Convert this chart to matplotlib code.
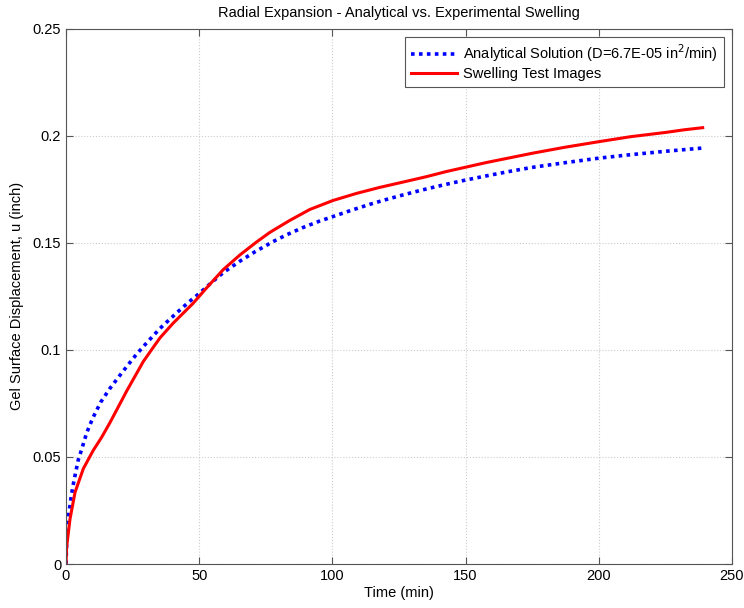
import matplotlib
matplotlib.use("Agg")
import matplotlib.pyplot as plt

# Analytical solution
t_analytical = [0, 0.3, 1, 2, 3, 4.6, 6, 7.75, 10, 13, 16.5, 20, 22.8, 26, 29, 35.3, 41.5,
                46, 50.2, 55, 59, 65.3, 71, 77.7, 83, 89, 95, 100.2, 107, 114, 120, 126.5,
                133, 139, 145, 150.2, 159, 167, 175.2, 187, 200.2, 212, 225.2, 239]
u_analytical = [0, 0.012, 0.023, 0.032, 0.039, 0.0486, 0.054, 0.0612, 0.0680, 0.0755,
                0.0820, 0.0877, 0.0922, 0.0972, 0.1015, 0.1100, 0.1172, 0.1222, 0.1265,
                0.1318, 0.1360, 0.1414, 0.1458, 0.1505, 0.1538, 0.1571, 0.1600, 0.1622,
                0.1651, 0.1679, 0.1701, 0.1723, 0.1744, 0.1762, 0.1779, 0.1793, 0.1815,
                0.1834, 0.1852, 0.1873, 0.1895, 0.1911, 0.1927, 0.1942]

# Swelling test images
t_test = [0, 0.25, 1.5, 3.4, 6.5, 10.2, 13.4, 16.5, 22.8, 29, 32.1, 35.3, 40.2, 47.7, 52.7,
          59, 65.3, 71.5, 76.5, 84, 91.5, 100.2, 109, 117.7, 126.5, 135.2, 142.7, 150.2,
          157.7, 175.2, 187, 200.2, 212, 225.2, 232, 239]
u_test = [0, 0.008, 0.021, 0.0335, 0.0445, 0.0530, 0.0592, 0.0660, 0.0808, 0.0945, 0.1000,
          0.1056, 0.1124, 0.1217, 0.1288, 0.1374, 0.1443, 0.1503, 0.1548, 0.1604, 0.1655,
          0.1697, 0.1730, 0.1758, 0.1783, 0.1808, 0.1832, 0.1853, 0.1874, 0.1918, 0.1945,
          0.1972, 0.1995, 0.2015, 0.2027, 0.2037]

x_ticks = [0, 50, 100, 150, 200, 250]
y_ticks = [0, 0.05, 0.1, 0.15, 0.2, 0.25]
y_tick_labels = ["0", "0.05", "0.1", "0.15", "0.2", "0.25"]

plt.rcParams['font.family'] = ['Liberation Sans', 'DejaVu Sans']
fs = 10.5

fig = plt.figure(figsize=(7.44, 6.08), dpi=100)
ax = fig.add_axes([66/744, 44/608, 666/744, 535.5/608])

ax.plot(t_analytical, u_analytical, linestyle=(0, (1, 1.2)), color=(0, 0, 1), linewidth=2.6,
        label="Analytical Solution (D=6.7E-05 in$^2$/min)")
ax.plot(t_test, u_test, '-', color=(1, 0, 0), linewidth=2.2, label="Swelling Test Images")

ax.set_xlim(0, 250)
ax.set_ylim(0, 0.25)
ax.set_xticks(x_ticks)
ax.set_yticks(y_ticks)
ax.set_yticklabels(y_tick_labels)
ax.tick_params(direction='in', top=True, right=True, labelsize=fs, length=5, color='#555555')
ax.grid(True, linestyle=':', color='#cccccc', linewidth=0.8)
for s in ax.spines.values():
    s.set_color('#555555')

ax.set_xlabel("Time (min)", fontsize=fs, labelpad=2)
ax.set_ylabel("Gel Surface Displacement, u (inch)", fontsize=fs, labelpad=6)
ax.set_title("Radial Expansion - Analytical vs. Experimental Swelling", fontsize=fs, pad=8)

leg = ax.legend(loc='upper right', bbox_to_anchor=(0.988, 0.985), fontsize=fs,
                fancybox=False, edgecolor='#555555', framealpha=1, handlelength=3.2,
                borderaxespad=0, borderpad=0.4, labelspacing=0.2, handletextpad=0.4)
leg.get_frame().set_linewidth(0.8)

fig.savefig("out.png", dpi=100)
